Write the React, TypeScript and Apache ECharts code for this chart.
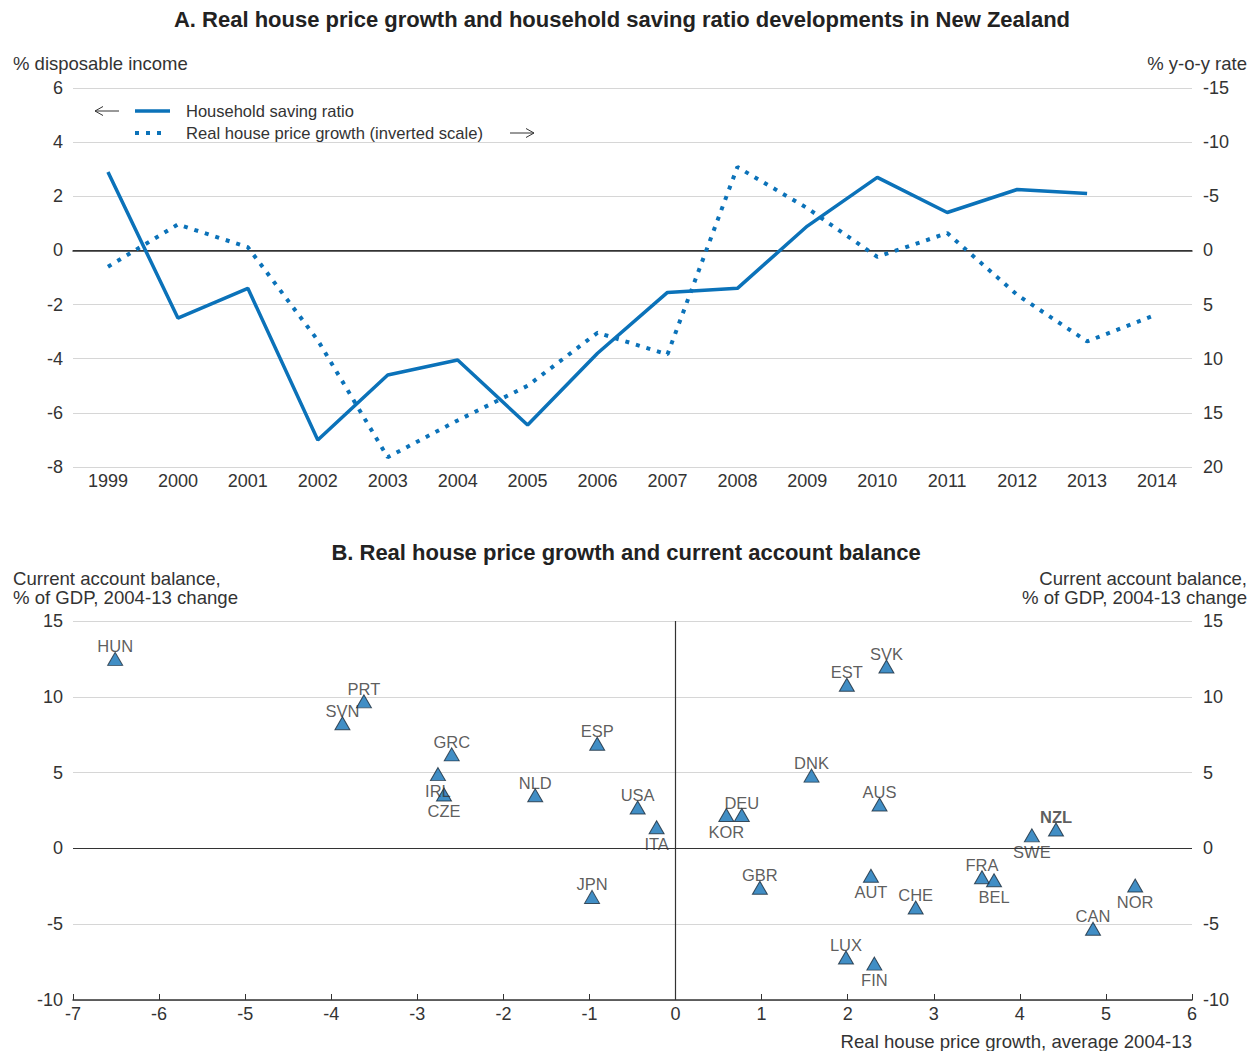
import React, { useEffect, useRef } from "react";
import * as echarts from "echarts";

const years = ["1999","2000","2001","2002","2003","2004","2005","2006","2007","2008","2009","2010","2011","2012","2013","2014"];
const savingRatio = [2.9, -2.5, -1.4, -7.0, -4.6, -4.05, -6.45, -3.8, -1.55, -1.4, 0.9, 2.7, 1.4, 2.25, 2.1, null];
const housePriceGrowth = [1.5, -2.4, -0.3, 8.3, 19.1, 15.7, 12.5, 7.6, 9.6, -7.7, -3.9, 0.6, -1.6, 4.1, 8.4, 5.9];

const leftTicks = { min: -8, max: 6, interval: 2 };
const rightTicks = { min: -15, max: 20, interval: 5 };

const countries = ["HUN","PRT","SVN","GRC","IRL","CZE","NLD","ESP","USA","ITA","JPN","KOR","DEU","DNK","EST","SVK","AUS","GBR","AUT","CHE","LUX","FIN","FRA","BEL","SWE","NZL","NOR","CAN"];
const houseGrowthAvg = [-6.51,-3.62,-3.87,-2.60,-2.76,-2.69,-1.63,-0.91,-0.44,-0.22,-0.97,0.59,0.77,1.58,1.99,2.45,2.37,0.98,2.27,2.79,1.98,2.31,3.56,3.70,4.14,4.42,5.34,4.85];
const currentAccountChange = [12.5,9.7,8.25,6.2,4.9,3.55,3.5,6.9,2.7,1.4,-3.2,2.2,2.2,4.8,10.8,12.0,2.9,-2.6,-1.8,-3.9,-7.2,-7.6,-1.9,-2.1,0.86,1.25,-2.45,-5.3];
const labelsBelow = ["IRL","CZE","ITA","KOR","AUT","FIN","BEL","SWE","NOR"];

const BLUE = "#0b72b9";
const TEXT = "#333333";
const FONT = '"Liberation Sans", Arial, Helvetica, sans-serif';

export default function App() {
  const ref = useRef<HTMLDivElement>(null);
  useEffect(() => {
    document.body.style.margin = "0";
    const chart = echarts.init(ref.current!, null, { renderer: "svg" });

    const axisLabel = { color: TEXT, fontSize: 18, fontFamily: FONT };
    const scatterData = countries.map((c, i) => {
      const below = labelsBelow.includes(c);
      return {
        name: c,
        value: [houseGrowthAvg[i], currentAccountChange[i]],
        label: {
          position: below ? "bottom" : "top",
          distance: below ? 1 : -3,
          fontWeight: c === "NZL" ? "bold" : "normal",
        },
      };
    });

    const txt = (text: string, x: number, y: number, align: string, font: string, fill = TEXT) => ({
      type: "text",
      silent: true,
      style: { text, x, y, textAlign: align, verticalAlign: "middle", font, fill },
    });

    const option: any = {
      animation: false,
      backgroundColor: "#ffffff",
      textStyle: { fontFamily: FONT },
      grid: [
        { left: 73, top: 88, width: 1119, height: 379 },
        { left: 73, top: 621, width: 1119, height: 379 },
      ],
      xAxis: [
        {
          type: "category",
          gridIndex: 0,
          data: years,
          boundaryGap: true,
          axisLine: { lineStyle: { color: TEXT, width: 1.5 } },
          axisTick: { inside: true, length: 6, lineStyle: { color: TEXT } },
          axisLabel: { ...axisLabel, margin: 5 },
          splitLine: { show: false },
        },
        {
          type: "value",
          gridIndex: 1,
          min: -7,
          max: 6,
          interval: 1,
          axisLine: { onZero: false, lineStyle: { color: TEXT, width: 1.5 } },
          axisTick: { inside: true, length: 6, lineStyle: { color: TEXT } },
          axisLabel: { ...axisLabel, margin: 5 },
          splitLine: { show: false },
        },
      ],
      yAxis: [
        {
          type: "value",
          gridIndex: 0,
          ...leftTicks,
          axisLine: { show: false },
          axisTick: { show: false },
          axisLabel: { ...axisLabel, margin: 10 },
          splitLine: { lineStyle: { color: "#d6d6d6", width: 1.2 } },
        },
        {
          type: "value",
          gridIndex: 0,
          position: "right",
          inverse: true,
          ...rightTicks,
          axisLine: { show: false },
          axisTick: { show: false },
          axisLabel: { ...axisLabel, margin: 11 },
          splitLine: { show: false },
        },
        {
          type: "value",
          gridIndex: 1,
          min: -10,
          max: 15,
          interval: 5,
          axisLine: { show: false },
          axisTick: { show: false },
          axisLabel: { ...axisLabel, margin: 10 },
          splitLine: { lineStyle: { color: "#d6d6d6", width: 1.2 } },
        },
        {
          type: "value",
          gridIndex: 1,
          position: "right",
          min: -10,
          max: 15,
          interval: 5,
          axisLine: { show: false },
          axisTick: { show: false },
          axisLabel: { ...axisLabel, margin: 11 },
          splitLine: { show: false },
        },
      ],
      series: [
        {
          name: "Household saving ratio",
          type: "line",
          xAxisIndex: 0,
          yAxisIndex: 0,
          data: savingRatio,
          showSymbol: false,
          symbol: "none",
          lineStyle: { color: BLUE, width: 3.5 },
          z: 3,
          markLine: {
            silent: true,
            symbol: "none",
            label: { show: false },
            lineStyle: { color: TEXT, width: 1.2, type: "solid" },
            data: [{ yAxis: 0 }],
            z: 1,
          },
        },
        {
          name: "Real house price growth (inverted scale)",
          type: "line",
          xAxisIndex: 0,
          yAxisIndex: 1,
          data: housePriceGrowth,
          showSymbol: false,
          symbol: "none",
          lineStyle: { color: BLUE, width: 4, type: [4, 7], cap: "butt" },
          z: 2,
        },
        {
          name: "Countries",
          type: "scatter",
          xAxisIndex: 1,
          yAxisIndex: 2,
          data: scatterData,
          symbol: "triangle",
          symbolSize: [15, 13],
          itemStyle: { color: "#1172b6", borderColor: "#1a2a3a", borderWidth: 1 },
          label: {
            show: true,
            formatter: (p: any) => p.name,
            color: TEXT,
            fontSize: 16.5,
            fontFamily: FONT,
          },
          z: 3,
          markLine: {
            silent: true,
            symbol: "none",
            label: { show: false },
            lineStyle: { color: TEXT, width: 1.2, type: "solid" },
            data: [{ yAxis: 0 }, { xAxis: 0 }],
            z: 1,
          },
        },
      ],
      graphic: [
        txt("A. Real house price growth and household saving ratio developments in New Zealand", 622, 19, "center", `bold 22px ${FONT}`, "#222"),
        txt("% disposable income", 13, 63, "left", `18.5px ${FONT}`),
        txt("% y-o-y rate", 1247, 63, "right", `18.5px ${FONT}`),
        // legend
        { type: "polyline", silent: true, shape: { points: [[119, 111], [95, 111]] }, style: { stroke: TEXT, lineWidth: 1, fill: null } },
        { type: "polyline", silent: true, shape: { points: [[103, 106.5], [95, 111], [103, 115.5]] }, style: { stroke: TEXT, lineWidth: 1, fill: null } },
        { type: "line", silent: true, shape: { x1: 135, y1: 111, x2: 170, y2: 111 }, style: { stroke: BLUE, lineWidth: 3.5 } },
        txt("Household saving ratio", 186, 111, "left", `16.5px ${FONT}`),
        { type: "line", silent: true, shape: { x1: 135, y1: 133, x2: 167, y2: 133 }, style: { stroke: BLUE, lineWidth: 4, lineDash: [4, 7] } },
        txt("Real house price growth (inverted scale)", 186, 133, "left", `16.6px ${FONT}`),
        { type: "polyline", silent: true, shape: { points: [[510, 133], [534, 133]] }, style: { stroke: TEXT, lineWidth: 1, fill: null } },
        { type: "polyline", silent: true, shape: { points: [[526, 128.5], [534, 133], [526, 137.5]] }, style: { stroke: TEXT, lineWidth: 1, fill: null } },
        // panel B
        txt("B. Real house price growth and current account balance", 626, 552, "center", `bold 22px ${FONT}`, "#222"),
        txt("Current account balance,", 13, 578, "left", `18.6px ${FONT}`),
        txt("% of GDP, 2004-13 change", 13, 597, "left", `18.6px ${FONT}`),
        txt("Current account balance,", 1247, 578, "right", `18.6px ${FONT}`),
        txt("% of GDP, 2004-13 change", 1247, 597, "right", `18.6px ${FONT}`),
        txt("Real house price growth, average 2004-13", 1192, 1041, "right", `18.6px ${FONT}`),
      ],
    };
    chart.setOption(option);
    return () => chart.dispose();
  }, []);
  return <div ref={ref} style={{ width: 1256, height: 1051 }} />;
}
